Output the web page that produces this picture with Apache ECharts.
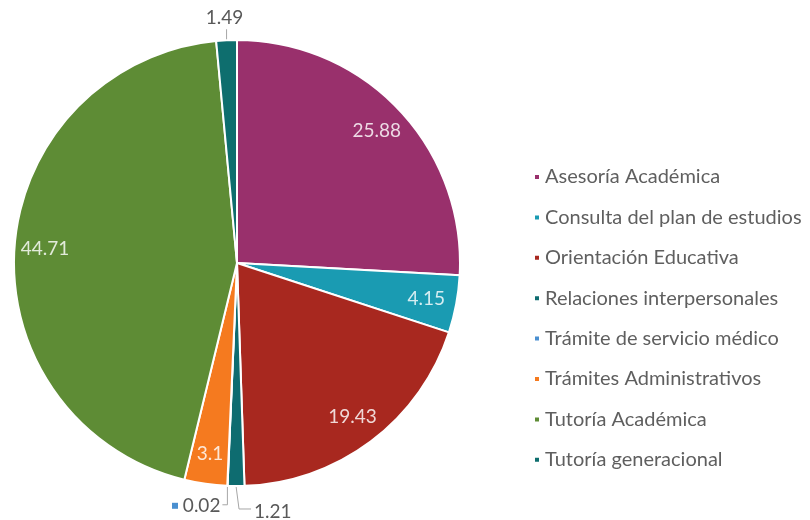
<!DOCTYPE html>
<html>
<head>
<meta charset="utf-8">
<script src="https://cdn.jsdelivr.net/npm/echarts@6/dist/echarts.min.js"></script>
<style>html,body{margin:0;padding:0;background:#fff}#c{width:810px;height:520px}</style>
</head>
<body>
<div id="c"></div>
<script>
const categories = ['Asesoría Académica','Consulta del plan de estudios','Orientación Educativa','Relaciones interpersonales','Trámite de servicio médico','Trámites Administrativos','Tutoría Académica','Tutoría generacional'];
const values = [25.88, 4.15, 19.43, 1.21, 0.02, 3.1, 44.71, 1.49];
const colors = ['#99306C','#1A9BB2','#A8281F','#0E6C70','#4A8FD0','#F57A1F','#5E8C35','#0E6E6E'];
const outsideLabels = ['Relaciones interpersonales','Trámite de servicio médico','Tutoría generacional'];

const FONT = 'Lato, "Open Sans", sans-serif';
const center = [237, 263];
const R = 223;

const mainData = categories.map((n, i) => {
  const d = { name: n, value: values[i], itemStyle: { color: colors[i] } };
  if (outsideLabels.indexOf(n) >= 0) {
    d.label = { show: true };
    d.labelLine = { show: true, length: 10, length2: 6 };
  } else {
    d.label = { show: false };
    d.labelLine = { show: false };
  }
  return d;
});

const overlayData = categories.map((n, i) => ({
  name: n, value: values[i],
  label: { show: outsideLabels.indexOf(n) < 0 }
}));

function outsideLayout(p) {
  if (p.seriesIndex !== 0 || !p.labelLinePoints) return {};
  const a = p.labelLinePoints[0];
  const name = categories[p.dataIndex];
  if (name === 'Tutoría generacional') {
    return { x: a[0] - 2, y: a[1] - 22, align: 'center', verticalAlign: 'middle',
      labelLinePoints: [a, [a[0], a[1] - 11], [a[0], a[1] - 11]] };
  }
  if (name === 'Relaciones interpersonales') {
    return { x: a[0] + 18, y: a[1] + 26, align: 'left', verticalAlign: 'middle',
      labelLinePoints: [a, [a[0] + 3, a[1] + 23], [a[0] + 15, a[1] + 23]] };
  }
  if (name === 'Trámite de servicio médico') {
    return { x: a[0] - 7, y: a[1] + 20, align: 'right', verticalAlign: 'middle',
      labelLinePoints: [a, [a[0], a[1] + 19], [a[0] - 5, a[1] + 19]] };
  }
  return {};
}

const chart = echarts.init(document.getElementById('c'), null, { renderer: 'canvas' });
chart.setOption({
  animation: false,
  color: colors,
  legend: {
    orient: 'vertical', left: 528, top: 160,
    icon: 'rect', itemWidth: 6, itemHeight: 6, itemGap: 16.4,
    data: categories,
    textStyle: { fontFamily: FONT, fontSize: 20, color: '#5f5f5f', lineHeight: 24 }
  },
  series: [
    {
      type: 'pie', center: center, radius: [0, R], startAngle: 90, clockwise: true,
      avoidLabelOverlap: false, minShowLabelAngle: 0,
      itemStyle: { borderColor: '#fff', borderWidth: 2 },
      label: {
        position: 'outside', fontFamily: FONT, fontSize: 19, color: '#595959', alignTo: 'none',
        formatter: function (p) {
          return p.name === 'Trámite de servicio médico' ? '{k|} {v|' + p.value + '}' : '{v|' + p.value + '}';
        },
        rich: {
          k: { width: 6, height: 6, backgroundColor: colors[4] },
          v: { fontFamily: FONT, fontSize: 19, color: '#595959' }
        }
      },
      labelLine: { lineStyle: { color: '#a6a6a6', width: 1 }, smooth: false },
      labelLayout: outsideLayout,
      data: mainData
    },
    {
      type: 'pie', center: center, radius: [156, R], startAngle: 90, clockwise: true,
      silent: true, legendHoverLink: false,
      itemStyle: { color: 'rgba(0,0,0,0)', borderWidth: 0 },
      label: { show: true, position: 'inside', formatter: '{c}', fontFamily: FONT, fontSize: 19, color: 'rgba(255,255,255,0.82)' },
      labelLine: { show: false },
      data: overlayData
    }
  ]
});
</script>
</body>
</html>
